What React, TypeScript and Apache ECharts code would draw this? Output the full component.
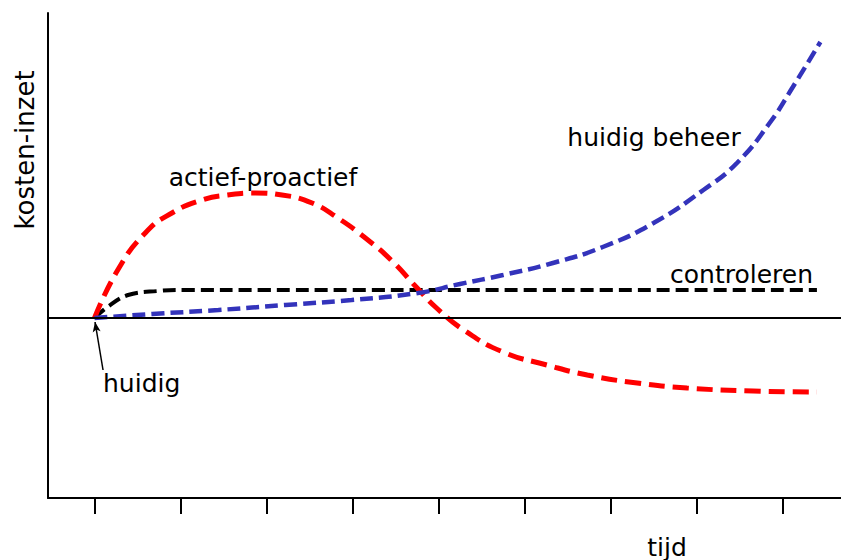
import React, { useEffect, useRef } from "react";
import * as echarts from "echarts";

const xTicks = [0, 1, 2, 3, 4, 5, 6, 7, 8];

const actiefX = [0, 0.27, 0.59, 0.9, 1.25, 1.55, 1.87, 2.18, 2.53, 2.83, 3.15, 3.46, 3.73, 3.99, 4.31, 4.75, 5.26, 5.73, 6.31, 6.89, 7.66, 8.4];
const actiefY = [0, 4.8, 8.5, 10.5, 11.8, 12.3, 12.5, 12.3, 11.5, 10.0, 8.0, 5.7, 3.2, 0.9, -1.3, -3.4, -4.7, -5.7, -6.5, -7.0, -7.3, -7.4];

const controlX = [0, 0.15, 0.39, 0.74, 1.05, 2, 3, 4, 5, 6, 7, 8.4];
const controlY = [0, 1.1, 2.3, 2.7, 2.8, 2.8, 2.8, 2.8, 2.8, 2.8, 2.8, 2.8];

const beheerX = [0, 0.67, 1.44, 2.22, 2.99, 3.76, 4.25, 4.75, 5.33, 5.91, 6.5, 7.08, 7.47, 7.85, 8.12, 8.44];
const beheerY = [0, 0.4, 0.8, 1.3, 1.8, 2.5, 3.4, 4.3, 5.5, 7.1, 9.5, 12.8, 15.5, 19.5, 23.1, 27.6];

const arrowFrom = [0.099, -5.2];
const arrowTo = [0.006, -0.4];

const labels = {
  actief: "actief-proactief",
  beheer: "huidig beheer",
  controleren: "controleren",
  huidig: "huidig",
  xName: "tijd",
  yName: "kosten-inzet",
};

const zip = (xs: number[], ys: number[]) => xs.map((x, i) => [x, ys[i]]);

export default function App() {
  const ref = useRef<HTMLDivElement>(null);
  useEffect(() => {
    if (!ref.current) return;
    const chart = echarts.init(ref.current, null, { renderer: "svg" });
    const font = "DejaVu Sans";
    const textStyle = (size: number) => ({ fontFamily: font, fontSize: size, fill: "#000" });
    chart.setOption({
      animation: false,
      grid: { left: 48, right: 0, top: 13, bottom: 62 },
      xAxis: {
        type: "value",
        min: -0.541,
        max: 8.68,
        axisLine: { show: true, onZero: false, lineStyle: { color: "#000", width: 2 } },
        axisTick: { show: true, customValues: xTicks, length: 16, inside: false, lineStyle: { color: "#000", width: 2 } },
        axisLabel: { show: false },
        splitLine: { show: false },
      },
      yAxis: {
        type: "value",
        min: -18,
        max: 30.5,
        axisLine: { show: true, onZero: false, lineStyle: { color: "#000", width: 2 } },
        axisTick: { show: false },
        axisLabel: { show: false },
        splitLine: { show: false },
      },
      series: [
        {
          type: "line",
          data: zip(controlX, controlY),
          smooth: 0.4,
          symbol: "none",
          lineStyle: { color: "#000", width: 4, type: [13, 6] },
          markLine: {
            silent: true,
            symbol: ["none", "none"],
            label: { show: false },
            lineStyle: { color: "#000", width: 2, type: "solid" },
            data: [{ yAxis: 0 }],
          },
        },
        {
          type: "line",
          data: zip(actiefX, actiefY),
          smooth: 0.5,
          symbol: "none",
          lineStyle: { color: "#ff0000", width: 5, type: [16, 8] },
        },
        {
          type: "line",
          data: zip(beheerX, beheerY),
          smooth: 0.5,
          symbol: "none",
          lineStyle: { color: "#3333bb", width: 4.5, type: [13, 6] },
          markLine: {
            silent: true,
            symbol: ["none", "arrow"],
            symbolSize: [6, 10],
            label: { show: false },
            lineStyle: { color: "#000", width: 1.5, type: "solid" },
            data: [[{ coord: arrowFrom }, { coord: arrowTo }]],
          },
        },
      ],
      graphic: [
        { type: "text", x: 263, y: 177, style: { ...textStyle(25), text: labels.actief, align: "center", verticalAlign: "middle" } },
        { type: "text", x: 654, y: 137, style: { ...textStyle(25), text: labels.beheer, align: "center", verticalAlign: "middle" } },
        { type: "text", x: 813, y: 274, style: { ...textStyle(25), text: labels.controleren, align: "right", verticalAlign: "middle" } },
        { type: "text", x: 103, y: 383, style: { ...textStyle(25), text: labels.huidig, align: "left", verticalAlign: "middle" } },
        { type: "text", x: 667, y: 547, style: { ...textStyle(25), text: labels.xName, align: "center", verticalAlign: "middle" } },
        { type: "text", x: 25, y: 150, rotation: Math.PI / 2, style: { ...textStyle(26), text: labels.yName, align: "center", verticalAlign: "middle" } },
      ],
    });
    return () => chart.dispose();
  }, []);
  return <div ref={ref} style={{ position: "fixed", left: 0, top: 0, width: 841, height: 560, background: "#fff" }} />;
}
